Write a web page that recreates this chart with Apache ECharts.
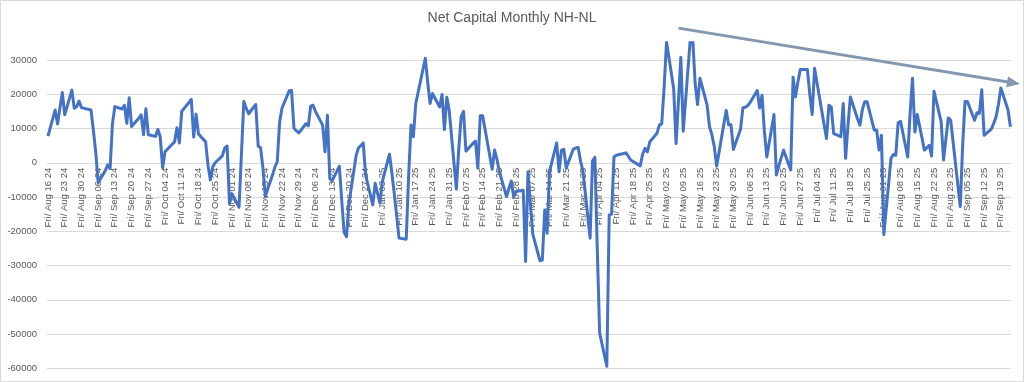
<!DOCTYPE html>
<html>
<head>
<meta charset="utf-8">
<script src="https://cdn.jsdelivr.net/npm/echarts@6/dist/echarts.min.js"></script>
<style>
html,body{margin:0;padding:0;background:#ffffff;}
#chart{width:1024px;height:382px;}
</style>
</head>
<body>
<div id="chart"></div>
<script>
// ---------- data ----------
const chartTitle = 'Net Capital Monthly NH-NL';
const startDate = '2024-08-16';
const axisEndDate = '2025-09-23';
const holidays = ['2024-09-02','2024-11-28','2024-12-25','2025-01-01','2025-01-09','2025-01-20',
                  '2025-02-17','2025-04-18','2025-05-26','2025-06-19','2025-07-04','2025-09-01'];
const dayNames = ['Sun','Mon','Tue','Wed','Thu','Fri','Sat'];
const monthNames = ['Jan','Feb','Mar','Apr','May','Jun','Jul','Aug','Sep','Oct','Nov','Dec'];
const yMin = -60000;
const yGridMax = 30000;
const yPlotMax = 35000;
const yStep = 10000;
const xStepDays = 7;
// one value per trading day, starting Fri Aug 16 2024
const values = [
  7800,
  15400, 11300, 16000, 20500, 14000,
  21200, 15900, 16400, 18000, 16100,
  15400, 9500, 3000, -5800,
  -2300, -600, -1700, 11500, 16400,
  15700, 16800, 11500, 19000, 10600,
  13000, 14000, 8200, 15800, 8200,
  7700, 9700, 7500, -1500, 3200,
  5400, 6100, 10200, 5800, 15000,
  17600, 18500, 7500, 14200, 8400,
  6100, -700, -5000, -1200, 0,
  2000, 4300, 4900, -12000, -9000,
  -13000, 2500, 17900, 16000, 14300,
  17000, 4900, 4400, -1500, -9800,
  -3600, -1300, 300, 12000, 16000,
  21000, 21100, 10000, 8700,
  11400, 10800, 16500, 16800, 15000,
  11000, 3200, 13900, -4600, -5200,
  -1000, -11000, -20300, -21600, -12000,
  2000, 4300, 5800, -3600,
  -12300, -6000, -11800, -5500,
  2500, -3000, -9000, -22000,
  -22300, -4000, 11000, 7600, 17300,
  30500, 23500, 17300, 20200,
  16300, 19900, 9700, 19100, 15300,
  -7700, 4000, 13400, 15000, 3400,
  5700, 6300, -1600, 13700, 13700,
  -1900, 3700, 1000, -2600,
  -9900, -7500, -5300, -9900, -8400,
  -8000, -28800, -2600, -12000, -20800,
  -28600, -28400, -13800, -20600, -2600,
  5800, -2600, 3700, 3900, -1500,
  4000, 4300, 4500, 500, -2400,
  -22000, 500, 1600, -25000, -49700,
  -59400, -15200, -15000, 1700, 2200,
  2700, 2900, 1900, 800,
  -900, 2500, 4200, 3200, 6100,
  8600, 11000, 11400, 22000, 35300,
  21600, 5600, 18000, 30800, 9200,
  36500, 36000, 23000, 17000, 24700,
  16800, 10500, 8200, 4700, -1000,
  15300, 11100, 11100, 3900,
  9800, 16100, 16200, 16700, 17600,
  21100, 16000, 19700, 9000, 1700,
  14100, -3600, -1000, 3700,
  -2100, 25000, 19200, 23500, 27200,
  27200, 20000, 14100, 27600,
  11000, 7100, 16800, 16300, 8500,
  7600, 17300, 1300, 11000, 19200,
  12800, 11000, 15500, 17800, 17800,
  9500, 9500, 3700, 8000, -21000,
  1300, 2400, 2200, 11700, 12100,
  1700, 14500, 24700, 9000, 14100,
  3700, 4400, 5100, 2000, 20900,
  12000, 800, 7000, 13100, 12400,
  -12800, 5000, 17900, 17900,
  12400, 14600, 14400, 21300, 8000,
  9800, 11500, 13400, 17000, 21800,
  15500, 10500
];
// trend arrow annotation (date, value)
const arrowStart = ['2025-05-07', 39300];
const arrowEnd = ['2025-09-27', 23000];

// ---------- helpers ----------
const DAY = 86400000;
function toUTC(iso){ const p = iso.split('-').map(Number); return Date.UTC(p[0], p[1]-1, p[2]); }
const t0 = toUTC(startDate);
function dayOffset(iso){ return Math.round((toUTC(iso) - t0) / DAY); }
function pad(n){ return (n < 10 ? '0' : '') + n; }
function fmtDay(v){
  const d = new Date(t0 + Math.round(v) * DAY);
  return dayNames[d.getUTCDay()] + '/ ' + monthNames[d.getUTCMonth()] + ' ' + pad(d.getUTCDate()) + ' ' + String(d.getUTCFullYear()).slice(2);
}
const holSet = new Set(holidays);
const seriesData = [];
(function(){
  let t = t0, i = 0;
  while (i < values.length) {
    const d = new Date(t);
    const wd = d.getUTCDay();
    const iso = d.toISOString().slice(0,10);
    if (wd !== 0 && wd !== 6 && !holSet.has(iso)) {
      seriesData.push([(t - t0) / DAY, values[i]]);
      i++;
    }
    t += DAY;
  }
})();

const FONT = '"Liberation Sans", Arial, sans-serif';
const TXT = '#595959';
const GRIDC = '#d9d9d9';
const W = 1024, H = 382;

const chart = echarts.init(document.getElementById('chart'), null, {renderer: 'canvas', width: W, height: H});
const gridPlot = {left: 48, right: 13.6, top: 42.87, bottom: 13.7};
const gridLines = {left: 47, right: 13.3, top: 60, bottom: 13.7};
// x axis sits on the zero line of the plot grid
const plotH = H - gridPlot.top - gridPlot.bottom;
const zeroFromBottom = plotH * (0 - yMin) / (yPlotMax - yMin);

chart.setOption({
  animation: false,
  backgroundColor: '#ffffff',
  title: {
    text: chartTitle, left: 'center', top: 11, padding: 0,
    textStyle: {fontFamily: FONT, fontSize: 14, fontWeight: 'normal', color: TXT}
  },
  grid: [
    Object.assign({containLabel: false, outerBoundsMode: 'none'}, gridLines),
    Object.assign({containLabel: false, outerBoundsMode: 'none'}, gridPlot)
  ],
  xAxis: [
    {type: 'value', gridIndex: 0, min: 0, max: 1, show: false},
    {
      type: 'value', gridIndex: 1, position: 'bottom', offset: -zeroFromBottom,
      min: 0, max: dayOffset(axisEndDate), interval: xStepDays,
      axisLine: {show: false, onZero: false},
      axisTick: {show: false},
      splitLine: {show: false},
      axisLabel: {
        rotate: 90, margin: 5, fontSize: 9.5, fontFamily: FONT, color: TXT,
        showMaxLabel: false, showMinLabel: true, hideOverlap: false,
        formatter: function(v){ return fmtDay(v); }
      }
    }
  ],
  yAxis: [
    {
      type: 'value', gridIndex: 0, min: yMin, max: yGridMax, interval: yStep,
      axisLine: {show: false, onZero: false}, axisTick: {show: false},
      axisLabel: {fontSize: 9.5, fontFamily: FONT, color: TXT, margin: 10,
        formatter: function(v){ return String(v); }},
      splitLine: {show: true, lineStyle: {color: GRIDC, width: 1}}
    },
    {type: 'value', gridIndex: 1, min: yMin, max: yPlotMax,
      axisLine: {show: false, onZero: false}, axisTick: {show: false},
      axisLabel: {show: false}, splitLine: {show: false}}
  ],
  series: [{
    type: 'line', xAxisIndex: 1, yAxisIndex: 1,
    data: seriesData, showSymbol: false, symbol: 'none', clip: true,
    lineStyle: {color: '#4472C4', width: 3, join: 'round'},
    itemStyle: {color: '#4472C4'}, z: 3
  }]
});

// arrow annotation and frame
const p0 = chart.convertToPixel({gridIndex: 1}, [dayOffset(arrowStart[0]), arrowStart[1]]);
const p1 = chart.convertToPixel({gridIndex: 1}, [dayOffset(arrowEnd[0]), arrowEnd[1]]);
const dx = p1[0] - p0[0], dy = p1[1] - p0[1];
const len = Math.sqrt(dx*dx + dy*dy);
const ux = dx/len, uy = dy/len, nx = -uy, ny = ux;
const headLen = 13, headHalf = 5.5;
const bx = p1[0] - ux*headLen, by = p1[1] - uy*headLen;
const ARROWC = '#8497B0';
chart.setOption({
  graphic: [
    {type: 'rect', shape: {x: 0.5, y: 0.5, width: W - 1, height: H - 1}, style: {fill: 'none', stroke: GRIDC, lineWidth: 1}, z: 10, silent: true},
    {type: 'line', shape: {x1: p0[0], y1: p0[1], x2: bx + ux*1, y2: by + uy*1}, style: {stroke: ARROWC, lineWidth: 3}, z: 10, silent: true},
    {type: 'polygon', shape: {points: [[p1[0], p1[1]], [bx + nx*headHalf, by + ny*headHalf], [bx - nx*headHalf, by - ny*headHalf]]}, style: {fill: ARROWC}, z: 10, silent: true}
  ]
});
</script>
</body>
</html>
